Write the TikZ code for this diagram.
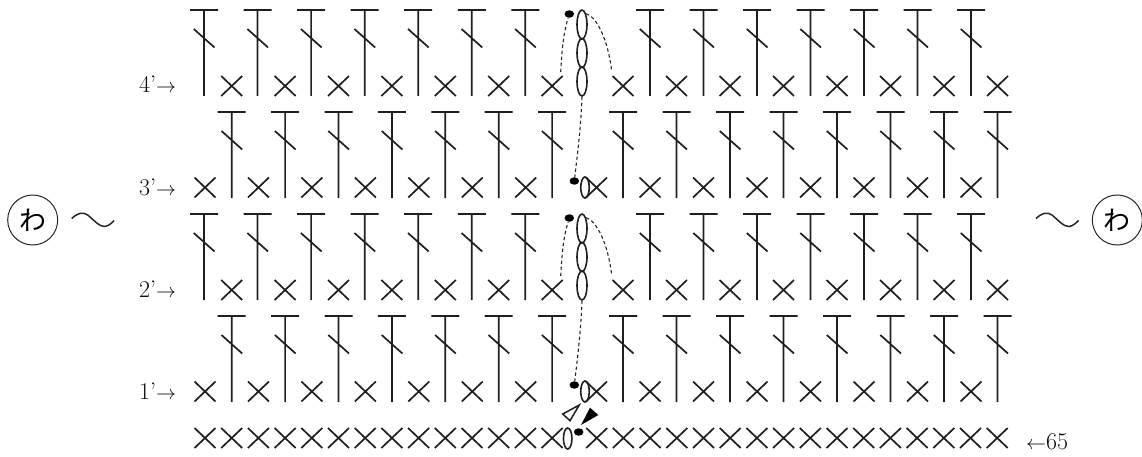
\documentclass[tikz,border=0pt]{standalone}
\usepackage{fix-cm}
\usepackage{fontspec}
\newfontfamily\cjk{Noto Sans CJK JP}
\usetikzlibrary{shapes.geometric}
\tikzset{
  x=1pt,y=-1pt,
  stitch/.style={line width=1.7pt,color=black!88},
  chainloop/.style={draw=black!88,line width=1.6pt,ellipse,inner sep=0pt,minimum width=10pt,minimum height=29pt},
  smallloop/.style={draw=black!88,line width=1.6pt,ellipse,inner sep=0pt,minimum width=8.5pt,minimum height=21pt},
  slipdot/.style={fill=black,ellipse,inner sep=0pt,minimum width=9.5pt,minimum height=7.5pt},
  dashlink/.style={line width=1.1pt,dash pattern=on 3.4pt off 2.6pt,color=black!85},
  rowlabel/.style={inner sep=0pt,anchor=base west,text=black!95,font=\fontsize{24}{24}\selectfont},
  ringsign/.style={draw=black!85,line width=1pt,circle,inner sep=0pt,minimum size=50pt,font=\cjk\fontsize{27}{27}\selectfont},
  swung/.style={line width=1.5pt,color=black!85},
}
\newcommand{\dcX}[2]{\draw[stitch] (#1-10.5,#2-10)--(#1+10.5,#2+10) (#1-10.5,#2+10)--(#1+10.5,#2-10);}
\newcommand{\dcT}[2]{\draw[stitch] (#1-14,#2)--(#1+14,#2) (#1,#2)--(#1,#2+86) (#1-10.2,#2+19)--(#1+10.5,#2+37.5);}
\newcommand{\wideTilde}[1]{\draw[swung] (#1,218.5) .. controls (#1+6,213) and (#1+11,211.5) .. (#1+16,215) .. controls (#1+22,220) and (#1+28,227) .. (#1+33,226.5) .. controls (#1+37,226) and (#1+40,223) .. (#1+42.5,220.5);}
\newcommand{\arrowsize}{\fontsize{20}{20}\selectfont}
\begin{document}
\begin{tikzpicture}
\useasboundingbox (0,0) rectangle (1142,457);
% rows 4' and 2'
\foreach \ty/\xy in {10/86,214/290}{
  \foreach \k in {0,...,6}{\pgfmathsetmacro{\px}{204+53.55*\k}\dcT{\px}{\ty}}
  \foreach \k in {0,...,6}{\pgfmathsetmacro{\px}{231.7+53.4*\k}\dcX{\px}{\xy}}
  \foreach \k in {0,...,6}{\pgfmathsetmacro{\px}{650+53.5*\k}\dcT{\px}{\ty}}
  \foreach \k in {0,...,7}{\pgfmathsetmacro{\px}{623+53.5*\k}\dcX{\px}{\xy}}
}
% rows 3' and 1'
\foreach \ty/\xy in {112/187.5,316/391.5}{
  \foreach \k in {0,...,6}{\pgfmathsetmacro{\px}{231.7+53.4*\k}\dcT{\px}{\ty}}
  \foreach \k in {0,...,6}{\pgfmathsetmacro{\px}{205+53.45*\k}\dcX{\px}{\xy}}
  \foreach \k in {0,...,7}{\pgfmathsetmacro{\px}{623+53.5*\k}\dcT{\px}{\ty}}
  \foreach \k in {0,...,7}{\pgfmathsetmacro{\px}{596.5+53.5*\k}\dcX{\px}{\xy}}
}
% foundation row
\foreach \k in {0,...,13}{\pgfmathsetmacro{\px}{205+26.7*\k}\dcX{\px}{438}}
\foreach \k in {0,...,15}{\pgfmathsetmacro{\px}{596.7+26.7*\k}\dcX{\px}{438}}
% chains row 4'
\node[chainloop] (a1) at (582,24.5) {};
\node[chainloop] (a2) at (582,53) {};
\node[chainloop] (a3) at (582,81.5) {};
\node[slipdot] (adot) at (569.3,14) {};
\coordinate (aL) at (560.7,72);
\coordinate (aR) at (611.7,71);
\draw[dashlink] (aL) .. controls (562,50) and (563,35) .. (adot);
\draw[dashlink] (a1.north east) .. controls (597,17) and (608,40) .. (aR);
% row 3'
\node[smallloop] (b1) at (585,187.5) {};
\node[slipdot] (bdot) at (574.3,181) {};
\draw[dashlink] (a3.south) .. controls (581,125) and (578,150) .. (bdot);
% chains row 2'
\node[chainloop] (c1) at (582,228.5) {};
\node[chainloop] (c2) at (582,257) {};
\node[chainloop] (c3) at (582,285.5) {};
\node[slipdot] (cdot) at (569.3,218) {};
\coordinate (cL) at (560.7,276);
\coordinate (cR) at (611.7,275);
\draw[dashlink] (cL) .. controls (562,254) and (563,239) .. (cdot);
\draw[dashlink] (c1.north east) .. controls (597,221) and (608,244) .. (cR);
% row 1'
\node[smallloop] (d1) at (585,391.5) {};
\node[slipdot] (ddot) at (574.3,385) {};
\draw[dashlink] (c3.south) .. controls (581,329) and (578,354) .. (ddot);
% foundation chain and markers
\node[smallloop] (e1) at (567.7,438.5) {};
\node[slipdot] (edot) at (578.7,432) {};
\draw[line width=1.5pt,color=black!88,line join=miter] (579.3,405)--(562.7,414)--(570,420.7)--cycle;
\fill[black] (598.3,415)--(590,407.7)--(581,425)--cycle;
% labels
\node[rowlabel] (l4) at (139,93) {4’{\arrowsize$\rightarrow$}};
\node[rowlabel] (l3) at (139,195) {3’{\arrowsize$\rightarrow$}};
\node[rowlabel] (l2) at (139,297) {2’{\arrowsize$\rightarrow$}};
\node[rowlabel] (l1) at (139,399) {1’{\arrowsize$\rightarrow$}};
\node[rowlabel] (l65) at (1026,449) {{\arrowsize$\leftarrow$}65};
% side signs
\node[ringsign] (wl) at (32.7,220) {わ};
\node[ringsign] (wr) at (1117.3,220) {わ};
\wideTilde{71.7}
\wideTilde{1036}
\end{tikzpicture}
\end{document}
